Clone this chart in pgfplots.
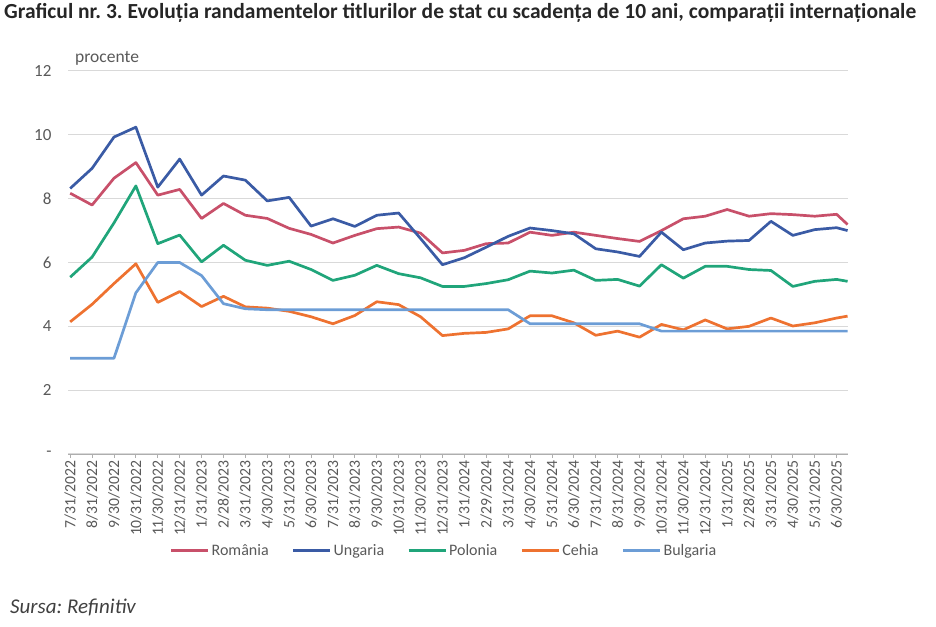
\documentclass[border=0pt]{standalone}
\usepackage{fontspec}
\setmainfont{Carlito}
\usepackage{pgfplots}
\pgfplotsset{compat=1.18}
\definecolor{cRo}{HTML}{C8506A}
\definecolor{cHu}{HTML}{3A5BA5}
\definecolor{cPl}{HTML}{20A57A}
\definecolor{cCz}{HTML}{EE7230}
\definecolor{cBg}{HTML}{6C9DD6}
\definecolor{txtgray}{HTML}{595959}
\definecolor{gridgray}{HTML}{D9D9D9}
\frenchspacing
\begin{document}
\begin{tikzpicture}
\path[use as bounding box] (0,0) rectangle (936pt,626pt);
\node[anchor=west, inner sep=0pt, text=black!85, font=\fontsize{21.5}{24}\selectfont\bfseries] at (4pt,613pt) {Graficul nr. 3. Evoluția randamentelor titlurilor de stat cu scadența de 10 ani, comparații internaționale};
\node[anchor=west, inner sep=0pt, text=txtgray, font=\fontsize{17.5}{19}\selectfont] at (75pt,568pt) {procente};
\node[anchor=west, inner sep=0pt, text=black!75, font=\fontsize{21}{23}\selectfont\itshape] at (10pt,19pt) {Sursa: Refinitiv};
\begin{axis}[
  at={(68pt,172pt)}, anchor=south west,
  width=780pt, height=383pt, scale only axis,
  xmin=-0.1, xmax=35.52, ymin=0, ymax=12,
  axis x line*=bottom, axis y line*=left,
  y axis line style={draw=none},
  x axis line style={draw=gridgray!80!black, line width=0.9pt},
  ytick={0,2,...,12}, yticklabels={-,2,4,6,8,10,12},
  ytick style={draw=none},
  xtick={0,...,35},
  xticklabels={7/31/2022,8/31/2022,9/30/2022,10/31/2022,11/30/2022,12/31/2022,1/31/2023,2/28/2023,3/31/2023,4/30/2023,5/31/2023,6/30/2023,7/31/2023,8/31/2023,9/30/2023,10/31/2023,11/30/2023,12/31/2023,1/31/2024,2/29/2024,3/31/2024,4/30/2024,5/31/2024,6/30/2024,7/31/2024,8/31/2024,9/30/2024,10/31/2024,11/30/2024,12/31/2024,1/31/2025,2/28/2025,3/31/2025,4/30/2025,5/31/2025,6/30/2025},
  xtick style={draw=gridgray!80!black, line width=0.8pt},
  tick align=outside, major tick length=4pt,
  ymajorgrids, grid style={draw=gridgray, line width=1pt},
  xticklabel style={rotate=90, anchor=east, font=\fontsize{15.7}{16}\selectfont, text=txtgray, inner sep=2pt},
  yticklabel style={font=\fontsize{17}{18}\selectfont, text=txtgray, anchor=east, xshift=-9pt},
  legend style={at={(0.482,-0.252)}, anchor=center, draw=none, fill=none, legend columns=5,
    font=\fontsize{16}{17}\selectfont, text=txtgray,
    /tikz/every even column/.append style={column sep=21pt}},
  legend image code/.code={\draw[#1, line width=3pt] (0pt,0pt) -- (37pt,0pt);},
  every axis plot/.append style={line width=2.7pt, line join=round, mark=none},
  clip=false,
]
\addplot[color=cRo] coordinates {(0,8.17)(1,7.80)(2,8.64)(3,9.13)(4,8.11)(5,8.29)(6,7.38)(7,7.85)(8,7.48)(9,7.38)(10,7.07)(11,6.88)(12,6.61)(13,6.85)(14,7.06)(15,7.11)(16,6.92)(17,6.30)(18,6.38)(19,6.59)(20,6.61)(21,6.95)(22,6.85)(23,6.95)(24,6.85)(25,6.75)(26,6.66)(27,7.00)(28,7.37)(29,7.45)(30,7.66)(31,7.45)(32,7.53)(33,7.50)(34,7.45)(35,7.51)(35.5,7.19)};
\addlegendentry{România}
\addplot[color=cHu] coordinates {(0,8.32)(1,8.95)(2,9.93)(3,10.24)(4,8.36)(5,9.24)(6,8.11)(7,8.71)(8,8.58)(9,7.93)(10,8.04)(11,7.14)(12,7.37)(13,7.13)(14,7.48)(15,7.55)(16,6.75)(17,5.93)(18,6.15)(19,6.48)(20,6.82)(21,7.08)(22,7.00)(23,6.90)(24,6.43)(25,6.33)(26,6.19)(27,6.95)(28,6.40)(29,6.61)(30,6.67)(31,6.69)(32,7.29)(33,6.85)(34,7.03)(35,7.09)(35.5,7.00)};
\addlegendentry{Ungaria}
\addplot[color=cPl] coordinates {(0,5.54)(1,6.17)(2,7.24)(3,8.40)(4,6.59)(5,6.86)(6,6.02)(7,6.54)(8,6.07)(9,5.91)(10,6.04)(11,5.78)(12,5.44)(13,5.60)(14,5.91)(15,5.65)(16,5.52)(17,5.25)(18,5.25)(19,5.34)(20,5.46)(21,5.73)(22,5.67)(23,5.76)(24,5.44)(25,5.47)(26,5.26)(27,5.93)(28,5.51)(29,5.88)(30,5.88)(31,5.78)(32,5.75)(33,5.25)(34,5.41)(35,5.47)(35.5,5.41)};
\addlegendentry{Polonia}
\addplot[color=cCz] coordinates {(0,4.14)(1,4.69)(2,5.34)(3,5.96)(4,4.75)(5,5.09)(6,4.62)(7,4.94)(8,4.61)(9,4.57)(10,4.47)(11,4.30)(12,4.08)(13,4.34)(14,4.77)(15,4.68)(16,4.30)(17,3.71)(18,3.78)(19,3.81)(20,3.92)(21,4.33)(22,4.33)(23,4.11)(24,3.72)(25,3.85)(26,3.66)(27,4.06)(28,3.89)(29,4.20)(30,3.92)(31,4.00)(32,4.26)(33,4.01)(34,4.11)(35,4.26)(35.5,4.32)};
\addlegendentry{Cehia}
\addplot[color=cBg] coordinates {(0,3.00)(1,3.00)(2,3.00)(3,5.05)(4,6.00)(5,6.00)(6,5.59)(7,4.71)(8,4.55)(9,4.52)(10,4.52)(11,4.52)(12,4.52)(13,4.52)(14,4.52)(15,4.52)(16,4.52)(17,4.52)(18,4.52)(19,4.52)(20,4.52)(21,4.08)(22,4.08)(23,4.08)(24,4.08)(25,4.08)(26,4.08)(27,3.85)(28,3.85)(29,3.85)(30,3.85)(31,3.85)(32,3.85)(33,3.85)(34,3.85)(35,3.85)(35.5,3.85)};
\addlegendentry{Bulgaria}
\end{axis}
\end{tikzpicture}
\end{document}
